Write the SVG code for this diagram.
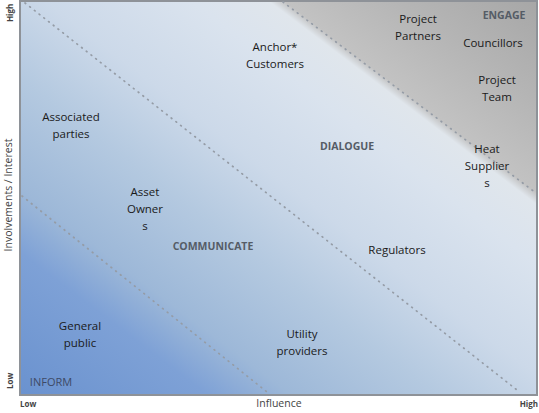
<svg xmlns="http://www.w3.org/2000/svg" width="539" height="413" viewBox="0 0 539 413">
<style>
.lbl{font-family:"Open Sans","Liberation Sans",sans-serif;font-size:11.5px;fill:#1a1a1a;text-anchor:middle}
.zone{font-family:"Open Sans","Liberation Sans",sans-serif;font-size:10.5px;font-weight:bold;fill:#555c66;text-anchor:middle}
.axis{font-family:"Open Sans","Liberation Sans",sans-serif;font-size:10.5px;fill:#444}
.tick{font-family:"Open Sans","Liberation Sans",sans-serif;font-size:8px;font-weight:bold;fill:#444}
.dot{stroke:#959ca6;stroke-width:1.7;stroke-dasharray:0.8 5.2;stroke-linecap:round;fill:none}
</style>
<defs>
<linearGradient id="bg" gradientUnits="userSpaceOnUse" x1="20" y1="395" x2="402" y2="-108">
<stop offset="0" stop-color="#6a92cf"/>
<stop offset="0.18" stop-color="#7ea1d6"/>
<stop offset="0.26" stop-color="#9db8d8"/>
<stop offset="0.4" stop-color="#b4c9e0"/>
<stop offset="0.52" stop-color="#ccd9e9"/>
<stop offset="0.66" stop-color="#dae3ee"/>
<stop offset="0.735" stop-color="#e0e6ec"/>
<stop offset="0.75" stop-color="#c2c2c2"/>
<stop offset="0.86" stop-color="#b5b5b5"/>
<stop offset="1" stop-color="#a6a6a6"/>
</linearGradient>
</defs>
<rect width="539" height="413" fill="#ffffff"/>
<g id="plot">
<rect x="20" y="1" width="517" height="394" fill="url(#bg)" stroke="#8e9298" stroke-width="2"/>
</g>
<g id="connectors">
<line class="dot" x1="22" y1="196" x2="267" y2="392"/>
<line class="dot" x1="25" y1="3" x2="517" y2="390"/>
<line class="dot" x1="283" y1="2" x2="536" y2="193"/>
</g>
<g id="axes">
<text class="tick" transform="translate(13,22) rotate(-90)">High</text>
<text class="tick" transform="translate(13,389) rotate(-90)">Low</text>
<text class="axis" text-anchor="middle" transform="translate(12,195) rotate(-90)">Involvements / Interest</text>
<text class="tick" x="20" y="407">Low</text>
<text class="axis" x="279" y="407" text-anchor="middle">Influence</text>
<text class="tick" x="538" y="407" text-anchor="end">High</text>
</g>
<g id="zones">
<text class="zone" x="51" y="386" style="font-weight:normal;font-size:11px;fill:#3e4a66">INFORM</text>
<text class="zone" x="213" y="250">COMMUNICATE</text>
<text class="zone" x="347" y="150">DIALOGUE</text>
<text class="zone" x="504" y="19">ENGAGE</text>
</g>
<g id="anchor-customers"><text class="lbl" x="275" y="51">Anchor*</text><text class="lbl" x="275" y="68">Customers</text></g>
<g id="project-partners"><text class="lbl" x="418" y="23">Project</text><text class="lbl" x="418" y="40">Partners</text></g>
<g id="councillors"><text class="lbl" x="493" y="47">Councillors</text></g>
<g id="project-team"><text class="lbl" x="497" y="84">Project</text><text class="lbl" x="497" y="101">Team</text></g>
<g id="heat-suppliers"><text class="lbl" x="487" y="153">Heat</text><text class="lbl" x="487" y="170">Supplier</text><text class="lbl" x="487" y="187">s</text></g>
<g id="associated-parties"><text class="lbl" x="71" y="121">Associated</text><text class="lbl" x="71" y="138">parties</text></g>
<g id="asset-owners"><text class="lbl" x="145" y="196">Asset</text><text class="lbl" x="145" y="213">Owner</text><text class="lbl" x="145" y="230">s</text></g>
<g id="regulators"><text class="lbl" x="397" y="254">Regulators</text></g>
<g id="general-public"><text class="lbl" x="80" y="330">General</text><text class="lbl" x="80" y="347">public</text></g>
<g id="utility-providers"><text class="lbl" x="302" y="338">Utility</text><text class="lbl" x="302" y="355">providers</text></g>
</svg>
